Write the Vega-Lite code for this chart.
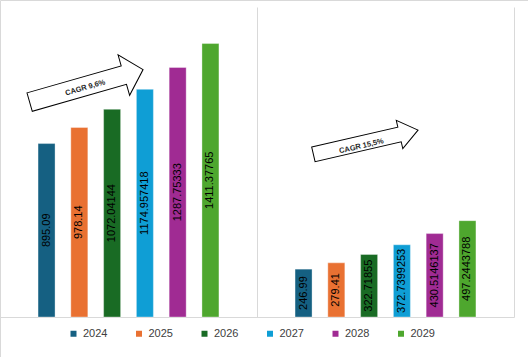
{
  "$schema": "https://vega.github.io/schema/vega-lite/v6.json",
  "width": 528,
  "height": 357,
  "autosize": {"type": "none"},
  "padding": 0,
  "background": "white",
  "config": {
    "view": {"stroke": "#d9d9d9", "strokeWidth": 1},
    "font": "Liberation Sans"
  },
  "datasets": {
    "bars": [
      {"group": "A", "year": "2024", "value": 895.09},
      {"group": "A", "year": "2025", "value": 978.14},
      {"group": "A", "year": "2026", "value": 1072.04144},
      {"group": "A", "year": "2027", "value": 1174.957418},
      {"group": "A", "year": "2028", "value": 1287.75333},
      {"group": "A", "year": "2029", "value": 1411.37765},
      {"group": "B", "year": "2024", "value": 246.99},
      {"group": "B", "year": "2025", "value": 279.41},
      {"group": "B", "year": "2026", "value": 322.71855},
      {"group": "B", "year": "2027", "value": 372.7399253},
      {"group": "B", "year": "2028", "value": 430.5146137},
      {"group": "B", "year": "2029", "value": 497.2443788}
    ],
    "notes": [
      {"group": "A", "value": 1193, "text": "CAGR 9,6%"},
      {"group": "B", "value": 902, "text": "CAGR 15,5%"}
    ]
  },
  "resolve": {"scale": {"y": "independent"}},
  "layer": [
    {
      "data": {"name": "bars"},
      "mark": {"type": "bar", "width": 17, "stroke": "white", "strokeOpacity": 0.35, "strokeWidth": 1},
      "encoding": {
        "x": {
          "field": "group", "type": "nominal",
          "scale": {"range": [0, 514], "paddingInner": 0, "paddingOuter": 0},
          "axis": {"orient": "top", "title": null, "labels": false, "ticks": false, "domain": false, "grid": true, "gridColor": "#d9d9d9", "gridWidth": 1, "bandPosition": 1}
        },
        "xOffset": {"field": "year", "type": "nominal", "scale": {"paddingInner": 0.16, "paddingOuter": 1}},
        "y": {
          "field": "value", "type": "quantitative",
          "scale": {"domain": [0, 1600], "range": [317, 7], "nice": false},
          "axis": {"title": null, "values": [0], "labels": false, "ticks": false, "domain": false, "grid": true, "gridColor": "#d9d9d9", "gridWidth": 1}
        },
        "color": {
          "field": "year", "type": "nominal",
          "scale": {"domain": ["2024", "2025", "2026", "2027", "2028", "2029"], "range": ["#156082", "#E97132", "#196B24", "#0F9ED5", "#A02B93", "#4EA72E"]},
          "legend": {"title": null, "orient": "none", "legendX": 68, "legendY": 328, "direction": "horizontal", "symbolType": "square", "symbolSize": 36, "symbolStrokeWidth": 0, "labelFontSize": 11, "labelColor": "#404040", "columnPadding": 25.5, "labelOffset": 4, "padding": 0}
        }
      }
    },
    {
      "data": {"name": "bars"},
      "mark": {"type": "text", "angle": -90, "fontSize": 11, "color": "#000000", "align": "center", "baseline": "middle"},
      "encoding": {
        "x": {"field": "group", "type": "nominal"},
        "xOffset": {"field": "year", "type": "nominal"},
        "y": {"field": "value", "type": "quantitative", "scale": {"domain": [0, 3200], "range": [317, 7], "nice": false}, "axis": null},
        "text": {"field": "value", "type": "nominal"}
      }
    },
    {
      "data": {"name": "notes"},
      "transform": [{"filter": "datum.group == 'A'"}],
      "mark": {"type": "point", "shape": "M-59,-9.6L39,-9.6L39,-21L59,0L39,21L39,9.6L-59,9.6Z", "size": 4, "angle": -16, "filled": false, "fill": "white", "fillOpacity": 1, "stroke": "#000000", "strokeWidth": 1, "opacity": 1},
      "encoding": {
        "x": {"field": "group", "type": "nominal", "bandPosition": 0.336},
        "y": {"field": "value", "type": "quantitative", "scale": {"domain": [0, 1600], "range": [317, 7], "nice": false}, "axis": null}
      }
    },
    {
      "data": {"name": "notes"},
      "transform": [{"filter": "datum.group == 'A'"}],
      "mark": {"type": "text", "angle": -16, "fontSize": 7.5, "fontWeight": "bold", "color": "#262626", "dx": -1.5, "dy": 1.6, "align": "center", "baseline": "middle"},
      "encoding": {
        "x": {"field": "group", "type": "nominal", "bandPosition": 0.336},
        "y": {"field": "value", "type": "quantitative", "scale": {"domain": [0, 1600], "range": [317, 7], "nice": false}, "axis": null},
        "text": {"field": "text"}
      }
    },
    {
      "data": {"name": "notes"},
      "transform": [{"filter": "datum.group == 'B'"}],
      "mark": {"type": "point", "shape": "M-53.7,-7.5L34.7,-7.5L34.7,-14.5L53.7,0L34.7,14.5L34.7,7.5L-53.7,7.5Z", "size": 4, "angle": -13, "filled": false, "fill": "white", "fillOpacity": 1, "stroke": "#000000", "strokeWidth": 1, "opacity": 1},
      "encoding": {
        "x": {"field": "group", "type": "nominal", "bandPosition": 0.423},
        "y": {"field": "value", "type": "quantitative", "scale": {"domain": [0, 1600], "range": [317, 7], "nice": false}, "axis": null}
      }
    },
    {
      "data": {"name": "notes"},
      "transform": [{"filter": "datum.group == 'B'"}],
      "mark": {"type": "text", "angle": -13, "fontSize": 7.5, "fontWeight": "bold", "color": "#262626", "dx": -5, "dy": 3, "align": "center", "baseline": "middle"},
      "encoding": {
        "x": {"field": "group", "type": "nominal", "bandPosition": 0.423},
        "y": {"field": "value", "type": "quantitative", "scale": {"domain": [0, 1600], "range": [317, 7], "nice": false}, "axis": null},
        "text": {"field": "text"}
      }
    }
  ]
}
